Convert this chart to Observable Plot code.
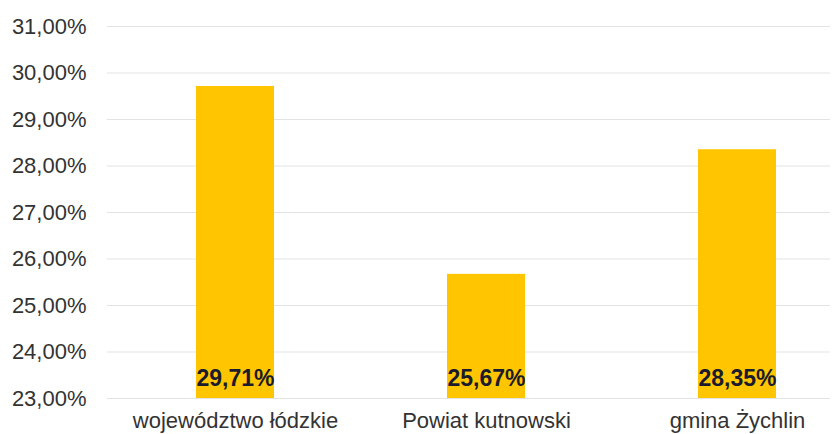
<!DOCTYPE html>
<html>
<head>
<meta charset="utf-8">
<script src="https://cdn.jsdelivr.net/npm/d3@7"></script>
<script src="https://cdn.jsdelivr.net/npm/@observablehq/plot@0.6"></script>
<style>
  html, body { margin: 0; padding: 0; background: #fff; }
  #chart svg { display: block; }
</style>
</head>
<body>
<div id="chart"></div>
<script>
const categories = ["województwo łódzkie", "Powiat kutnowski", "gmina Żychlin"];
const values = [29.71, 25.67, 28.35];
const yTicks = [23, 24, 25, 26, 27, 28, 29, 30, 31];

const data = categories.map((c, i) => ({category: c, value: values[i]}));
const fmt = d => d.toFixed(2).replace(".", ",") + "%";

const chart = Plot.plot({
  width: 833,
  height: 434,
  marginLeft: 107,
  marginRight: 3,
  marginTop: 26,
  marginBottom: 36,
  style: {fontFamily: "'Liberation Sans', Arial, sans-serif", background: "#fff", color: "#333"},
  x: {domain: categories, paddingInner: 0.69, paddingOuter: 0.28, align: 0.625, label: null},
  y: {domain: [23, 31], ticks: yTicks, tickFormat: fmt, label: null},
  marks: [
    Plot.ruleY(yTicks, {stroke: "#e3e3e3", strokeWidth: 1}),
    Plot.barY(data, {x: "category", y1: 23, y2: "value", fill: "#FFC600"}),
    Plot.text(data, {x: "category", y: 23, text: d => fmt(d.value), dy: -20, fontWeight: "bold", fontSize: 23, fill: "#1b1b2e"}),
    Plot.axisX({fontSize: 22, tickSize: 0, tickPadding: 14, label: null, fill: "#333"}),
    Plot.axisY({ticks: yTicks, tickFormat: fmt, fontSize: 22, tickSize: 0, tickPadding: 21, label: null, fill: "#333"})
  ]
});
document.getElementById("chart").appendChild(chart);
</script>
</body>
</html>
